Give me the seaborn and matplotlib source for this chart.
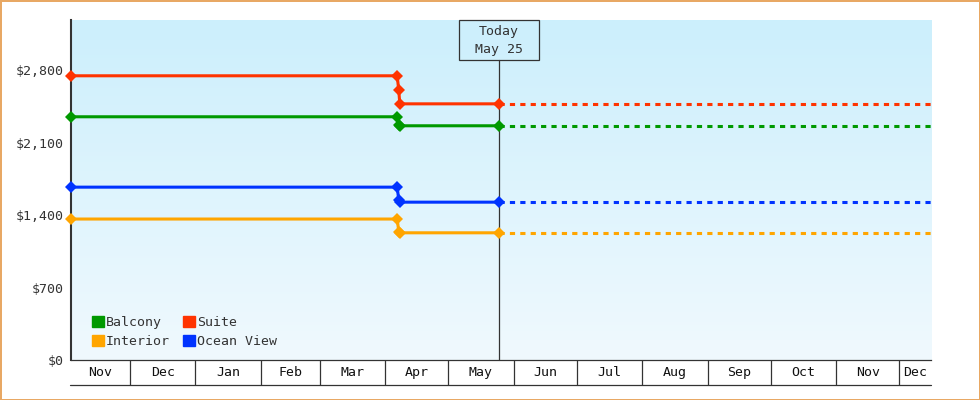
import matplotlib
matplotlib.use("Agg")
import matplotlib.pyplot as plt
import matplotlib.dates as mdates
from matplotlib.patches import Patch, Rectangle
import numpy as np
import pandas as pd
import seaborn as sns

# 客室タイプと色
cabins = ["Balcony", "Interior", "Suite", "Ocean View"]
colors = ["#009900", "#ffa500", "#ff3300", "#0033ff"]

# 価格履歴 (各客室で同じ日付)
price_dates = ["2024-11-03", "2025-04-06 18:00", "2025-04-07 12:00",
               "2025-04-08 00:00", "2025-05-25"]
balcony = [2350, 2350, 2270, 2263, 2263]
interior = [1362, 1362, 1240, 1229, 1229]
suite = [2746, 2746, 2604, 2475, 2475]
ocean_view = [1670, 1670, 1545, 1525, 1525]

today = "2025-05-25"
range_start = "2024-11-03"
range_end = "2025-12-16"

month_labels = ["Nov", "Dec", "Jan", "Feb", "Mar", "Apr", "May",
                "Jun", "Jul", "Aug", "Sep", "Oct", "Nov", "Dec"]
y_ticks = [0, 700, 1400, 2100, 2800]
y_max = 3285

INK = "#333333"
FONT = ["DejaVu Sans Mono"]


def main():
    sns.set_style("white")
    plt.rcParams["font.family"] = FONT
    plt.rcParams["font.size"] = 9.5

    series = dict(zip(cabins, [balcony, interior, suite, ocean_view]))
    palette = dict(zip(cabins, colors))

    rows = []
    for name, vals in series.items():
        for d, v in zip(price_dates, vals):
            rows.append({"cabin": name, "date": pd.Timestamp(d), "price": v})
    df_hist = pd.DataFrame(rows)

    rows = []
    for name, vals in series.items():
        rows.append({"cabin": name, "date": pd.Timestamp(today), "price": vals[-1]})
        rows.append({"cabin": name, "date": pd.Timestamp(range_end), "price": vals[-1]})
    df_fwd = pd.DataFrame(rows)

    fig = plt.figure(figsize=(9.8, 4.0), dpi=100)
    fig.patch.set_edgecolor("#e8a864")
    fig.patch.set_linewidth(2.0)
    ax = fig.add_axes([71 / 980, 40 / 400, 860 / 980, 340 / 400])

    # 今日の線
    ax.axvline(pd.Timestamp(today), ymin=0, ymax=300 / 340, color=INK, lw=0.9, zorder=2)

    sns.lineplot(data=df_fwd, x="date", y="price", hue="cabin", palette=palette,
                 estimator=None, sort=False, legend=False, ax=ax,
                 linewidth=2.2, linestyle=(0, (1.7, 1.7)), zorder=3)
    sns.lineplot(data=df_hist, x="date", y="price", hue="cabin", palette=palette,
                 estimator=None, sort=False, legend=False, ax=ax,
                 linewidth=2.2, marker="D", markersize=6.5, markeredgewidth=0,
                 clip_on=False, zorder=4)

    # 背景のグラデーション
    grad = np.linspace(0, 1, 256).reshape(-1, 1)
    top = np.array([204, 239, 252]) / 255
    bot = np.array([240, 249, 254]) / 255
    img = top + (bot - top) * grad[:, :, None]
    ax.imshow(img, extent=[0, 1, 0, 1], transform=ax.transAxes,
              aspect="auto", zorder=0)

    x0 = pd.Timestamp(range_start)
    x1 = pd.Timestamp(range_end)
    ax.set_xlim(x0, x1)
    ax.set_ylim(0, y_max)

    # 軸
    for s in ["top", "right"]:
        ax.spines[s].set_visible(False)
    ax.spines["left"].set_color(INK)
    ax.spines["left"].set_linewidth(1.5)
    ax.spines["bottom"].set_color(INK)
    ax.spines["bottom"].set_linewidth(0.9)
    ax.set_yticks(y_ticks)
    ax.set_yticklabels([f"${v:,.0f}" for v in y_ticks])
    ax.tick_params(axis="y", direction="out", length=4, width=1.5, color=INK,
                   labelcolor=INK, labelsize=9.5, pad=1)
    ax.set_xticks([])
    ax.set_xlabel("")
    ax.set_ylabel("")

    # 月のラベル枠
    xt = ax.get_xaxis_transform()
    low = -25 / 340
    bounds = list(pd.date_range("2024-12-01", "2025-12-01", freq="MS"))
    ax.vlines(bounds, low, 0, transform=xt, colors=INK, lw=0.9, clip_on=False)
    ax.plot([-1 / 860, 1], [low, low], transform=ax.transAxes, color=INK,
            lw=0.9, clip_on=False)
    edges = [x0] + bounds + [x1]
    for i, lab in enumerate(month_labels):
        mid = edges[i] + (edges[i + 1] - edges[i]) / 2
        ax.text(mid, low / 2, lab, transform=xt, ha="center", va="center",
                color="#111111", fontsize=9.5)

    # Today の注記
    t = mdates.date2num(pd.Timestamp(today))
    ax.add_patch(Rectangle((t - 19, 300 / 340), 38, 40 / 340, transform=xt,
                           fill=False, ec=INK, lw=0.9, clip_on=False, zorder=5))
    ax.text(pd.Timestamp(today), 319 / 340,
            "Today\n" + pd.Timestamp(today).strftime("%b %d"),
            transform=xt, ha="center", va="center", color=INK,
            fontsize=9.5, linespacing=1.5, zorder=5)

    # 凡例
    handles = [Patch(color=c, label=l) for l, c in zip(cabins, colors)]
    leg = ax.legend(handles=handles, ncol=2, loc="lower left",
                    bbox_to_anchor=(0.012, 0.003), frameon=False,
                    handlelength=0.9, handleheight=0.9, handletextpad=0.15,
                    columnspacing=1.0, labelspacing=0.5, borderpad=0.3,
                    prop={"family": FONT, "size": 9.5})
    for txt in leg.get_texts():
        txt.set_color(INK)

    fig.savefig("out.png", dpi=100)


if __name__ == "__main__":
    main()
